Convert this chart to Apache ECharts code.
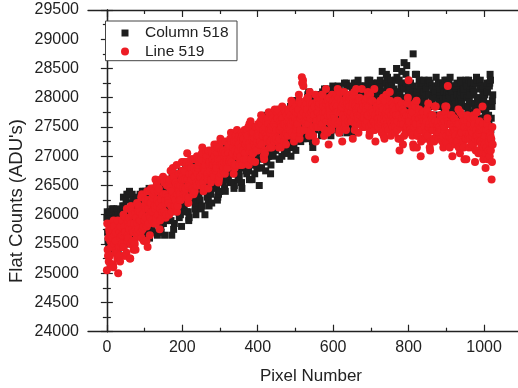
<!DOCTYPE html>
<html>
<head>
<meta charset="utf-8">
<script src="https://cdn.jsdelivr.net/npm/echarts@6/dist/echarts.min.js"></script>
<style>html,body{margin:0;padding:0;background:#fff}#c{width:518px;height:388px}</style>
</head>
<body>
<div id="c"></div>
<script>
// Pixel numbers: set A at 0,4,8,...; C at 1,5,9,...; B at 2,6,10,...; D at 3,7,11,...
const pixelStep = 4;
const offsetA = 0, offsetC = 1, offsetB = 2, offsetD = 3;
const xTicks = [0, 200, 400, 600, 800, 1000];
const xMinorTicks = [100, 300, 500, 700, 900];
const seriesNames = ['Column 518', 'Line 519'];

const column518A = [
25950,25600,26050,25400,25800,25700,26000,25550,25900,25750,
25850,26300,25600,26100,25750,26400,25950,25650,26200,25900,
26150,25700,26350,25900,26050,25600,26250,25850,26450,26000,
25800,26300,26050,26500,25900,26200,25700,26400,26100,25950,
26550,26000,26350,25650,26200,26650,26100,26400,25950,26300,
26150,26600,26300,26800,26050,26450,26700,26250,26550,26000,
26750,26300,26600,26900,26400,26000,26700,26500,26850,26350,
26500,26900,26650,27100,26350,26800,26600,27000,26450,26750,
27100,26700,26950,26550,27250,26850,27050,26600,27150,26800,
26850,27300,26950,27450,26750,27150,27000,27350,26700,27100,
27400,26500,27250,27600,27050,27350,26900,27500,27150,27300,
27100,27550,27300,27750,27200,27450,27000,27650,27400,27250,
27700,27300,27000,27900,27200,27600,27450,27850,27350,27650,
27400,27800,27550,28000,27300,27700,27600,27950,27450,27750,
27900,27500,27750,28100,27400,27850,27650,28000,27550,27800,
27600,28050,27800,27450,28150,27700,27950,27550,27850,28200,
27650,28000,27850,27500,28250,27750,27900,27600,28100,27800,
28050,27700,27950,28300,27600,27850,28150,27750,28000,27650,
27750,28200,27900,27550,28100,27800,28350,27700,28000,27850,
28050,27650,28500,27900,27600,28200,27800,28600,27750,28000,
27700,28150,27850,28750,27600,28050,27900,28300,27500,28000,
28100,27600,27900,28250,27450,27850,28000,27700,28200,27550,
27700,28150,27500,27950,28300,27650,27850,28050,27400,28200,
28000,27550,28250,27750,27400,28100,27850,27600,28300,27700,
27650,28200,27350,28050,27800,28350,27550,27950,27300,28150,
27900,27450,28250,27700,28400,27250
];
const column518B = [
25700,26000,25450,25850,26100,25600,25950,25350,25800,26050,
26150,25700,26050,25550,26350,25850,26200,25650,26000,26250,
25800,26200,25650,26400,25950,26100,25750,26300,26050,25700,
26350,25950,26250,25650,26450,26050,26300,25850,26550,26150,
26100,26450,25900,26250,26600,26050,26350,26700,26150,25800,
26500,26200,26700,26350,25950,26600,26400,26850,26150,26550,
26400,26800,26100,26650,26450,26950,26300,26600,26750,26200,
26850,26550,26950,26300,26700,27150,26600,26850,26400,27050,
26650,27000,26800,27200,26500,26950,27300,26750,26900,26450,
27200,26900,27400,27050,26600,27250,26950,27500,27100,26800,
27050,27450,26800,27300,27150,27700,27000,27400,26700,27250,
27500,27150,27650,27350,26950,27550,27250,27800,27400,27100,
27350,27750,27500,27150,27800,27450,27950,27550,27250,27700,
27850,27450,27650,28050,27500,27800,27150,27700,28000,27550,
27650,28000,27450,27900,27700,28150,27550,27850,27350,27950,
27900,27550,28100,27750,27400,28000,27650,28250,27800,27550,
28050,27700,27950,27400,28150,27800,28300,27650,27900,27550,
27800,28200,27550,27950,27700,28100,27450,28050,27850,28250,
28050,27600,28450,27850,27700,28150,27500,28000,28300,27750,
27900,28300,27550,28100,27800,28450,27700,27950,28250,27600,
28200,27750,28050,27550,28400,27900,27700,28150,27850,28250,
27700,28050,27850,28300,27550,27950,28150,27650,28000,27400,
28050,27600,28250,27800,27550,28100,27750,28350,27650,27900,
27750,28150,27500,27950,28250,27650,28050,27350,28200,27850,
28100,27550,27900,28250,27700,28000,27450,28300,27800,27600,
28050,27600,27850,28200,27450,27950
];
const column518C = [
26050,25500,25850,26100,25350,25950,25650,26000,25450,25900,
25600,26150,25800,26350,25550,26050,25900,26250,25700,26100,
26300,25650,26150,25900,26400,25750,26200,26050,25600,26350,
26100,25700,26400,26250,25850,26550,26000,26300,25650,26450,
25900,26500,26250,26700,25750,26400,26150,26600,26050,26750,
26650,26100,26850,26400,25900,26700,26300,26550,26950,26200,
26350,26850,26550,26150,27000,26450,26750,26250,26900,26600,
27000,26450,26800,26250,27100,26700,26950,26550,27200,26850,
26600,27150,26850,27350,26450,27050,26750,27300,26900,26550,
27050,27400,26750,27250,26950,27550,26600,27300,27150,26850,
27250,26800,27500,27100,27650,26750,27400,27000,27550,27200,
27000,27600,27250,27800,26950,27450,27150,27700,27300,27050,
27550,27150,27800,27400,27950,27100,27650,27300,27850,27500,
27300,27900,27600,28050,27450,27750,27250,27950,27650,27850,
27600,28050,27350,27850,28150,27650,27950,27450,28100,27750,
28050,27650,27900,28200,27500,27850,28100,27700,28000,27400,
27850,28200,27600,28050,27750,28250,27550,27950,28150,27700,
28200,27750,28050,27550,28300,27900,27650,28150,27800,28250,
27850,28300,27650,28100,27950,28400,27600,28200,27800,28050,
28150,27700,28350,27900,28050,27550,28250,27850,28400,27950,
27850,28250,27650,28100,27900,28400,27550,28200,27750,28050,
28300,27800,28050,27650,28250,27900,28150,27550,28350,27850,
27950,28250,27700,28100,27850,28300,27600,28000,28150,27750,
28200,27850,28050,27650,28300,27900,28150,27500,28250,27800,
27950,28250,27750,28100,27550,28300,27900,28150,27650,28050,
28200,27800,28100,27550,28300,27850
];
const column518D = [
25550,25900,25700,26050,25450,25800,26100,25650,25950,25600,
26000,25750,26250,25500,26100,25850,26350,25700,26150,25950,
25950,26250,25800,26100,25650,26400,26000,25750,26300,26150,
26200,25850,26450,26050,26300,25800,26500,26150,25900,26350,
26450,26100,26600,26300,25850,26500,26250,26650,26000,26550,
26300,26750,26050,26500,26850,26250,26650,26400,26100,26800,
26600,26250,26850,26500,26950,26400,26700,26150,26800,26550,
26650,27050,26500,26850,26400,27000,26700,27150,26600,26900,
26950,26550,27200,26800,27050,26700,27250,26650,27100,26950,
26950,27200,26700,27450,27050,27300,26850,27150,27400,27000,
27150,27450,26950,27350,27600,27050,27300,27550,26850,27400,
27350,27100,27650,27400,27200,27750,27500,27050,27600,27350,
27450,27850,27250,27700,27500,27950,27400,27750,27600,27300,
27700,27500,27850,28100,27600,27950,27400,27800,27550,28050,
27800,27550,28000,27700,27900,27450,28050,27650,27850,28200,
27750,28000,27600,28150,27850,27550,28000,27800,28250,27650,
28000,27650,28150,27850,27600,28050,27800,28200,27700,27950,
27950,28150,27800,28050,27600,28250,27850,28000,27700,28100,
28150,27800,28000,27650,28250,27900,28050,27750,28200,27950,
27850,28100,27750,28300,28000,27650,28150,27900,28550,28050,
28050,27800,28200,27950,27650,28100,27850,28250,27950,27700,
27950,28150,27750,28050,27900,28200,27700,28100,27850,28250,
28100,27850,28200,27650,28000,27900,28250,27800,28100,27700,
27900,28200,27750,28050,27950,27650,28150,27850,28000,28300,
28050,27700,28150,27900,28250,27800,28000,27650,28200,27950,
27750,28100,27900,28250,27650,28050
];

const line519A = [
25050,25600,25300,25850,25150,25500,25700,25250,25450,25800,
25500,26000,25650,25350,25900,25750,26150,25550,25850,25400,
26200,25750,26050,25600,26300,25900,26100,25450,26400,25950,
25900,26350,26100,26500,26000,25750,26300,26150,26550,25950,
26600,26200,26450,26050,26700,26300,26500,26150,26400,26250,
26750,26350,26600,26900,26200,26550,26800,26400,26650,26500,
26500,26900,26650,27050,26400,26750,26950,26600,26850,26550,
27050,26650,26900,27200,26550,26850,27100,26750,27000,26800,
26800,27200,26950,27350,26700,27100,27000,27300,26850,27150,
27350,26950,27200,27450,26850,27150,27400,27050,27300,27100,
27100,27500,27250,27650,27000,27400,27300,27550,27150,27450,
27650,27250,27500,27750,27150,27450,27700,27350,27550,27400,
27350,27750,27550,27900,27250,27650,27500,27800,27400,27700,
28300,27450,27700,28000,27350,27650,27850,27500,26950,27600,
27500,27900,27650,28050,27350,27750,27950,27200,27800,27600,
27950,27550,27800,28150,27400,27750,27250,27900,27650,28000,
27600,28000,27750,27300,28100,27850,27550,27950,27700,28150,
27900,27500,27800,28100,27350,27750,27950,27600,27250,27850,
27500,27900,27650,28000,27300,27750,27550,27850,27600,27850,
27850,27400,27700,27950,27100,27600,27800,27350,27650,27500,
28300,27450,27700,27200,27900,27550,27350,27800,27000,27650,
27750,27300,27600,27900,27150,27500,27700,27250,27850,27450,
27300,27700,27450,27150,27600,27850,28200,27350,27550,27000,
27650,27200,27500,27800,27050,27400,27600,26950,27300,27700,
27150,27550,27350,27700,26900,27450,27250,27600,27050,27850,
27300,26800,27550,27100,27400,26600
];
const line519B = [
25400,25750,25150,25600,25900,25350,25550,25000,25700,25450,
25650,25300,25950,25550,25800,25250,26050,25700,25500,25950,
25850,26150,25700,26000,25550,26250,25800,26100,25650,26200,
26050,26400,25850,26250,26450,26100,25950,26350,26200,26000,
26300,26550,26150,26400,26650,26250,26050,26500,26350,26600,
26450,26750,26300,26600,26850,26500,26700,26350,26950,26550,
26800,26550,27000,26700,26450,26850,26650,27100,26750,26600,
26700,27000,26850,27150,26650,26950,27250,26800,27050,26900,
27100,26900,27250,27050,26850,27350,27000,27200,26950,27400,
27250,27050,27400,27150,27550,26950,27300,27200,27500,27250,
27400,27200,27550,27350,27100,27600,27300,27450,27250,27700,
27350,27600,27450,27800,27300,27550,27650,27250,27750,27500,
27650,27450,27850,27600,27350,27750,27550,27950,27650,28250,
27750,27550,27900,27650,28100,27450,27800,27700,27250,27950,
27850,27600,28050,27750,27450,27900,27700,28000,27550,27850,
27700,28000,27850,27550,28100,27800,27650,27950,27450,27900,
27950,27700,27850,28050,27550,27800,27650,28000,27750,27500,
27700,27950,27600,27850,28050,27550,27750,27450,27900,27650,
27800,27550,27750,27350,27950,27650,27450,28100,27700,27500,
27600,27800,27450,27700,27300,27900,27550,27750,27400,28000,
27550,27750,27350,27600,27850,27150,27650,27450,27700,27300,
27600,27400,27750,27500,27250,27650,27550,27850,27350,27600,
27500,27300,27650,27450,27750,27200,27550,27400,27700,27250,
27450,27600,27250,27550,27350,27700,27150,27500,27400,27300,
27500,27200,27400,27650,27100,27350,27550,27250,27450,26950,
27200,27450,26950,27350,27100,27500
];
const line519C = [
25850,25200,25550,25750,25100,25650,25400,25900,25300,25600,
25900,25450,25700,26100,25600,25250,25850,26000,25550,25750,
25700,26050,25900,26350,25800,26150,25550,26250,26000,26450,
26300,25850,26600,26150,26400,25900,26250,26650,26050,26350,
26500,26000,26750,26350,26600,26150,26850,26450,26250,26700,
26650,26900,26450,27050,26300,26800,26600,26950,26400,26750,
26700,26950,26500,27150,26800,26650,27000,26450,26900,27100,
26950,27200,26750,27050,26600,27300,26850,27100,26700,27000,
27150,26950,27400,27050,27250,26850,27450,27100,26950,27300,
27100,27450,26950,27350,27200,27600,27050,27400,26900,27500,
27550,27200,27700,27350,26950,27500,27250,27750,27400,27150,
27500,27800,27300,27650,27450,27150,27850,27550,27350,27700,
27800,27500,27950,27650,27300,27850,27600,28050,27450,28350,
28200,27850,27600,28000,27700,27400,27900,27650,28050,27500,
27750,28000,27500,27900,27650,28150,27400,27850,27700,28050,
27850,27600,28050,27750,27450,27950,27700,28100,27550,27850,
27800,28050,27600,27900,27450,28150,27700,27850,27550,27950,
27850,27550,28000,27700,27400,27950,27650,28150,27550,27800,
27650,27950,27400,27800,27600,28050,27500,27750,27350,27900,
27750,27500,27950,27300,27850,27550,27200,27700,27450,27900,
27700,27450,27850,27150,27600,27950,27400,27650,27250,27750,
27650,27350,27800,27500,27100,27700,27450,27850,27300,27550,
27400,27700,27250,27550,27850,27350,27600,27150,27700,27450,
27650,27350,27550,27150,27750,27400,27250,27600,26950,27500,
27400,27650,27150,27500,27300,27750,27050,27450,27200,27550,
27450,27050,27650,27250,27350,26900
];
const line519D = [
25300,25700,25450,25150,25800,25550,25350,25750,25200,25650,
25450,25800,25300,25650,25950,25500,25750,25400,26000,25650,
26100,25900,26300,25750,26150,25950,26400,25850,26200,26050,
26450,26150,25950,26400,26200,26600,26050,26350,26250,26500,
26250,26600,26400,26800,26150,26550,26350,26700,26500,26900,
26600,26400,26850,26500,26700,26950,26450,26800,26650,27000,
26850,26650,26950,26550,26800,27050,26700,26900,26600,26850,
26850,27100,26800,26950,27150,26700,27050,26900,27250,26950,
27050,27300,26900,27150,26800,27250,27050,27350,27000,26850,
27300,27050,27250,27500,27100,26950,27400,27250,27150,27350,
27350,27600,27200,27450,27050,27350,27650,27250,27500,27300,
27550,27350,27650,27250,27600,27500,27400,27800,27200,27600,
27550,27700,27400,27800,27600,27450,27750,27300,27900,28250,
27600,27950,27800,27550,27900,27750,27350,27850,27600,27750,
27950,27700,27550,27850,27800,27600,27950,27750,27450,27900,
27650,27900,27750,28000,27600,27850,27700,27500,27950,27750,
27850,27600,28000,27700,27900,27750,27400,27950,27800,27650,
27650,27850,27700,27500,27950,27800,27600,27700,27850,27550,
27750,27600,27850,27650,27500,27800,27700,27950,27550,27700,
27550,27700,27600,27850,27500,27650,27750,27450,27700,27600,
27600,27400,27750,27500,27650,27350,27700,27550,27450,27600,
27500,27650,27350,27550,27700,27450,27300,27600,27500,27400,
27450,27600,27350,27500,27250,27650,27400,27550,27300,27500,
27400,27250,27550,27350,27450,27200,27500,27300,27600,27350,
27300,27450,27200,27550,27350,27100,27400,27250,27500,27150,
27350,27150,27450,27000,27300,27200
];

const FONT = "'Liberation Sans', Arial, Helvetica, sans-serif";
const INK = '#222222';
const BLACK = '#1e1e1e';
const RED = '#ed1c24';

const toPairs = (vals, off) => vals.map((v, i) => [i * pixelStep + off, v]);
function merge(sets) {
  const out = [];
  const n = Math.max(...sets.map(s => s.length));
  for (let i = 0; i < n; i++) sets.forEach(s => { if (i < s.length) out.push(s[i]); });
  return out;
}
const blackData = merge([toPairs(column518A, offsetA), toPairs(column518C, offsetC),
                         toPairs(column518B, offsetB), toPairs(column518D, offsetD)]);
const redData = merge([toPairs(line519A, offsetA), toPairs(line519C, offsetC),
                       toPairs(line519B, offsetB), toPairs(line519D, offsetD)]);

const axisLine = { show: true, lineStyle: { color: INK, width: 1.3 } };
const plain = v => String(v);

function xAx(pos, major, showLabel, showLine) {
  return {
    type: 'value', position: pos, min: -50, max: 1090,
    axisLine: showLine ? axisLine : { show: false },
    splitLine: { show: false },
    axisTick: { show: true, inside: true, length: major ? 7 : 4,
      lineStyle: { color: INK, width: 1.2 },
      customValues: major ? xTicks : xMinorTicks },
    axisLabel: { show: showLabel, customValues: xTicks, margin: 8, formatter: plain,
      fontSize: 16, color: INK, fontFamily: FONT }
  };
}
function yAx(pos, showLabel) {
  return {
    type: 'value', position: pos, min: 24000, max: 29500, interval: 500,
    axisLine: axisLine,
    splitLine: { show: false },
    axisTick: { show: true, inside: true, length: 6, lineStyle: { color: INK, width: 1.2 } },
    minorTick: { show: true, splitNumber: 2, length: 4, lineStyle: { color: INK, width: 1.2 } },
    axisLabel: { show: showLabel, margin: 9, fontSize: 16, color: INK, fontFamily: FONT, formatter: plain }
  };
}

const chart = echarts.init(document.getElementById('c'), null, { renderer: 'canvas' });
chart.setOption({
  animation: false,
  backgroundColor: '#ffffff',
  grid: { left: 88, top: 10, width: 432, height: 321.7, containLabel: false },
  xAxis: [
    xAx('bottom', true, true, true),
    xAx('bottom', false, false, false),
    xAx('top', true, false, true),
    xAx('top', false, false, false)
  ],
  yAxis: [yAx('left', true), yAx('right', false)],
  series: [
    { name: seriesNames[0], type: 'scatter', xAxisIndex: 0, yAxisIndex: 0,
      symbol: 'rect', symbolSize: 7, itemStyle: { color: BLACK, opacity: 1 },
      data: blackData, silent: true, z: 2, large: false },
    { name: seriesNames[1], type: 'scatter', xAxisIndex: 0, yAxisIndex: 0,
      symbol: 'circle', symbolSize: 8, itemStyle: { color: RED, opacity: 1 },
      data: redData, silent: true, z: 3, large: false }
  ],
  graphic: [
    { type: 'rect', z: 100, shape: { x: 105.5, y: 21, width: 131.5, height: 39.7 },
      style: { fill: '#ffffff', stroke: '#444444', lineWidth: 1 } },
    { type: 'rect', z: 101, shape: { x: 121.5, y: 29.5, width: 7, height: 7 },
      style: { fill: BLACK } },
    { type: 'circle', z: 101, shape: { cx: 125, cy: 51.5, r: 4 },
      style: { fill: RED } },
    { type: 'text', z: 101, x: 145, y: 33, style: { text: seriesNames[0],
      font: '15.5px ' + FONT, fill: INK, verticalAlign: 'middle', align: 'left' } },
    { type: 'text', z: 101, x: 145, y: 52, style: { text: seriesNames[1],
      font: '15.5px ' + FONT, fill: INK, verticalAlign: 'middle', align: 'left' } },
    { type: 'text', z: 101, x: 311, y: 376, style: { text: 'Pixel Number',
      font: '17px ' + FONT, fill: INK, verticalAlign: 'middle', align: 'center' } },
    { type: 'text', z: 101, x: 17, y: 201, rotation: Math.PI / 2, style: { text: "Flat Counts (ADU's)",
      font: '18.5px ' + FONT, fill: INK, verticalAlign: 'middle', align: 'center' } }
  ]
});
</script>
</body>
</html>
